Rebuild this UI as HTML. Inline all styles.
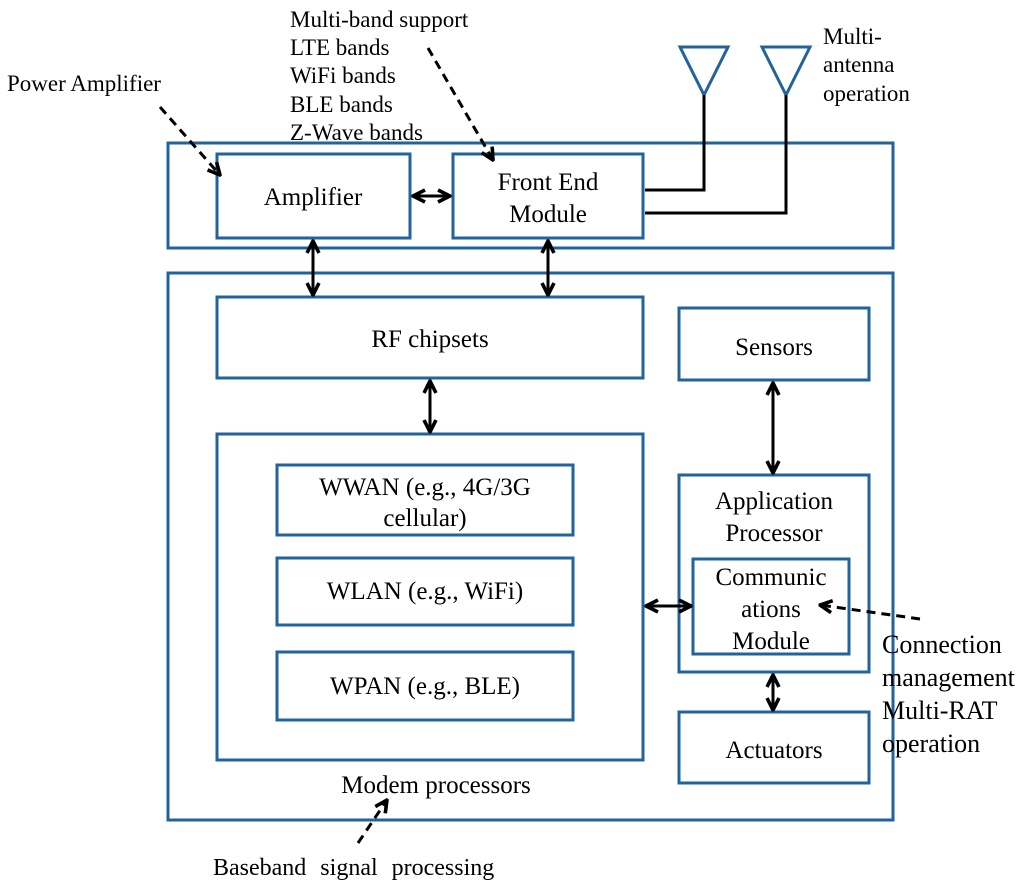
<!DOCTYPE html>
<html><head><meta charset="utf-8"><style>
html,body{margin:0;padding:0;background:#fff;}
svg{display:block;}
text{font-family:"Liberation Serif",serif;fill:#000;}
</style></head><body>
<svg width="1024" height="892" viewBox="0 0 1024 892" xmlns="http://www.w3.org/2000/svg">
<defs>
<marker id="ah" viewBox="0 0 10 10" refX="9" refY="5" markerWidth="5" markerHeight="5" orient="auto-start-reverse">
<path d="M1,1 L9,5 L1,9" fill="none" stroke="#000" stroke-width="2.4"/>
</marker>
</defs>
<g fill="none" stroke="#21639c" stroke-width="3">
<rect x="168" y="143" width="725" height="105"/>
<rect x="217" y="154" width="193" height="84"/>
<rect x="453" y="154" width="190" height="84"/>
<rect x="168" y="273" width="725" height="547"/>
<rect x="217" y="297" width="426" height="81"/>
<rect x="217" y="434" width="426" height="326"/>
<rect x="277" y="465" width="296" height="70"/>
<rect x="277" y="558" width="296" height="67"/>
<rect x="277" y="652" width="296" height="68"/>
<rect x="679" y="308" width="190" height="72"/>
<rect x="679" y="475" width="190" height="197"/>
<rect x="693" y="559" width="156" height="95"/>
<rect x="679" y="712" width="190" height="71"/>
<path d="M680,47 L728,47 L704,95 Z"/>
<path d="M762,47 L810,47 L786,95 Z"/>
</g>
<g fill="none" stroke="#000" stroke-width="3">
<path d="M704,95 V190 H645"/>
<path d="M786,95 V213 H645"/>
<line x1="413" y1="196" x2="450" y2="196" marker-start="url(#ah)" marker-end="url(#ah)"/>
<line x1="313" y1="241" x2="313" y2="295" marker-start="url(#ah)" marker-end="url(#ah)"/>
<line x1="548" y1="241" x2="548" y2="295" marker-start="url(#ah)" marker-end="url(#ah)"/>
<line x1="430" y1="381" x2="430" y2="432" marker-start="url(#ah)" marker-end="url(#ah)"/>
<line x1="773" y1="383" x2="773" y2="473" marker-start="url(#ah)" marker-end="url(#ah)"/>
<line x1="646" y1="606" x2="691" y2="606" marker-start="url(#ah)" marker-end="url(#ah)"/>
<line x1="773" y1="675" x2="773" y2="710" marker-start="url(#ah)" marker-end="url(#ah)"/>
</g>
<g fill="none" stroke="#000" stroke-width="3" stroke-dasharray="9,6">
<line x1="160" y1="107" x2="220" y2="175" marker-end="url(#ah)"/>
<line x1="428" y1="48" x2="493" y2="160" marker-end="url(#ah)"/>
<line x1="920" y1="619" x2="820" y2="605" marker-end="url(#ah)"/>
<line x1="358" y1="843" x2="387" y2="800" marker-end="url(#ah)"/>
</g>
<g font-size="25" text-anchor="middle">
<text x="313" y="205">Amplifier</text>
<text x="548" y="190">Front End</text>
<text x="548" y="222">Module</text>
<text x="430" y="347">RF chipsets</text>
<text x="425" y="495">WWAN (e.g., 4G/3G</text>
<text x="425" y="526">cellular)</text>
<text x="425" y="599">WLAN (e.g., WiFi)</text>
<text x="425" y="694">WPAN (e.g., BLE)</text>
<text x="774" y="355">Sensors</text>
<text x="774" y="509">Application</text>
<text x="774" y="541">Processor</text>
<text x="771" y="585">Communic</text>
<text x="771" y="617">ations</text>
<text x="771" y="649">Module</text>
<text x="774" y="758">Actuators</text>
<text x="436" y="793">Modem processors</text>
</g>
<g font-size="23">
<text x="7" y="91">Power Amplifier</text>
<text x="290" y="27">Multi-band support</text>
<text x="290" y="55">LTE bands</text>
<text x="290" y="83">WiFi bands</text>
<text x="290" y="112">BLE bands</text>
<text x="290" y="140">Z-Wave bands</text>
<text x="823" y="44">Multi-</text>
<text x="823" y="72">antenna</text>
<text x="823" y="101">operation</text>
</g>
<g font-size="26">
<text x="882" y="653">Connection</text>
<text x="882" y="686">management</text>
<text x="882" y="719">Multi-RAT</text>
<text x="882" y="752">operation</text>
</g>
<text x="213" y="875" font-size="24" word-spacing="8">Baseband signal processing</text>
</svg>
</body></html>
